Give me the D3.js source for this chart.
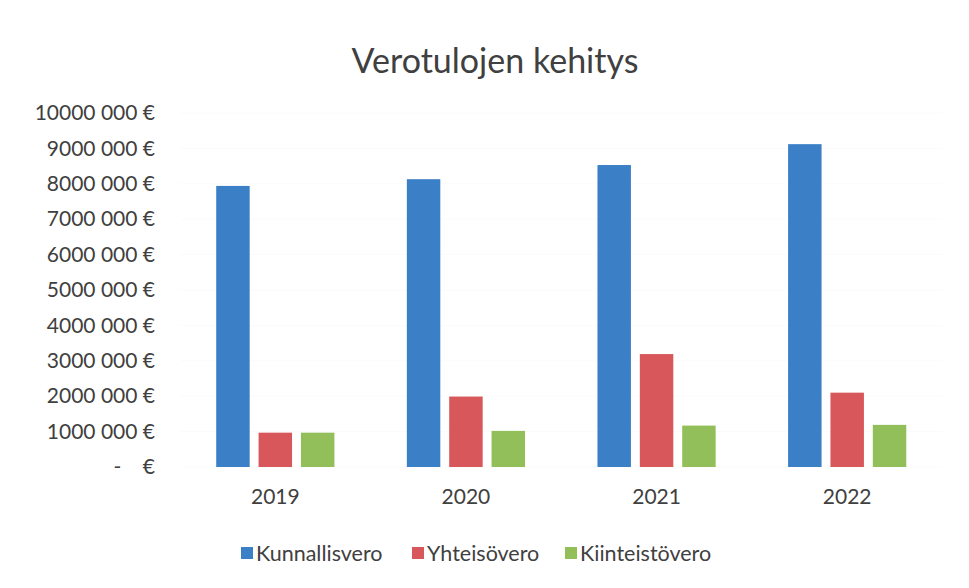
<!DOCTYPE html>
<html>
<head>
<meta charset="utf-8">
<script src="https://cdn.jsdelivr.net/npm/d3@7"></script>
<style>
  body { margin: 0; background: #fff; }
  text { font-family: Lato, "Open Sans", sans-serif; fill: #404040; white-space: pre; }
</style>
</head>
<body>
<script>
const width = 969;
const height = 588;

// data
var years = ["2019", "2020", "2021", "2022"];
var seriesNames = ["Kunnallisvero", "Yhteisövero", "Kiinteistövero"];
var kunnallisvero = [7940000, 8130000, 8530000, 9120000];
var yhteisovero = [970000, 1990000, 3190000, 2100000];
var kiinteistovero = [970000, 1020000, 1170000, 1190000];
var yTicks = [0, 1000000, 2000000, 3000000, 4000000, 5000000, 6000000, 7000000, 8000000, 9000000, 10000000];
var yTickLabels = ["-    €", "1000 000 €", "2000 000 €", "3000 000 €", "4000 000 €", "5000 000 €",
                   "6000 000 €", "7000 000 €", "8000 000 €", "9000 000 €", "10000 000 €"];
var colors = ["#3b7fc7", "#d8575b", "#93bf5b"];

var seriesValues = [kunnallisvero, yhteisovero, kiinteistovero];

var svg = d3.select("body")
  .append("svg")
  .attr("width", width)
  .attr("height", height);

//scales
var x0 = d3.scaleBand()
  .domain(years)
  .range([180, 942.5])
  .paddingInner(0.38)
  .paddingOuter(0.19);

var x1 = d3.scaleBand()
  .domain(seriesNames)
  .range([0, x0.bandwidth()])
  .paddingInner(0.21)
  .paddingOuter(0);

var y = d3.scaleLinear()
  .domain([0, 10000000])
  .range([467, 113]);

//gridlines, barely visible in the original
svg.append("g")
  .selectAll("line")
  .data(yTicks)
  .join("line")
  .attr("x1", 180)
  .attr("x2", 942.5)
  .attr("y1", d => y(d))
  .attr("y2", d => y(d))
  .attr("stroke", "#fbfbfb")
  .attr("stroke-width", 1);

//y axis with the € labels
var y_axis = d3.axisLeft(y)
  .tickValues(yTicks)
  .tickFormat((d, i) => yTickLabels[i])
  .tickSize(0)
  .tickPadding(0);

svg.append("g")
  .attr("transform", "translate(155, 0)")
  .call(y_axis)
  .call(g => g.select(".domain").remove())
  .selectAll("text")
  .style("font-family", "Lato, sans-serif")
  .style("font-size", "21px")
  .style("white-space", "pre")
  .attr("fill", "#404040");

//x axis
var x_axis = d3.axisBottom(x0)
  .tickSize(0)
  .tickPadding(0);

svg.append("g")
  .attr("transform", "translate(0, 489)")
  .call(x_axis)
  .call(g => g.select(".domain").remove())
  .selectAll("text")
  .style("font-family", "Lato, sans-serif")
  .style("font-size", "21px")
  .attr("fill", "#404040");

//bars
var groups = svg.append("g")
  .selectAll("g")
  .data(years)
  .join("g")
  .attr("transform", d => "translate(" + x0(d) + ",0)");

groups.selectAll("rect")
  .data((d, i) => seriesNames.map((s, j) => ({ name: s, value: seriesValues[j][i], k: j })))
  .join("rect")
  .attr("x", d => x1(d.name))
  .attr("width", x1.bandwidth())
  .attr("y", d => y(d.value))
  .attr("height", d => y(0) - y(d.value))
  .attr("fill", d => colors[d.k]);

//title
svg.append("text")
  .attr("x", 495)
  .attr("y", 73)
  .attr("text-anchor", "middle")
  .style("font-size", "34px")
  .text("Verotulojen kehitys");

//legend
var legendX = [241, 412, 565];
var legend = svg.append("g")
  .selectAll("g")
  .data(seriesNames)
  .join("g")
  .attr("transform", (d, i) => "translate(" + legendX[i] + ", 553)");

legend.append("rect")
  .attr("x", 0)
  .attr("y", -6)
  .attr("width", 12)
  .attr("height", 12)
  .attr("fill", (d, i) => colors[i]);

legend.append("text")
  .attr("x", 15)
  .attr("y", 8)
  .style("font-size", "21.5px")
  .text(d => d);
</script>
</body>
</html>
